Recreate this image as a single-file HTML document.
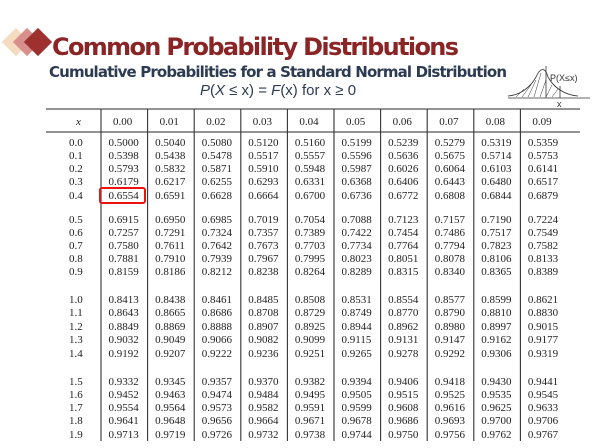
<!DOCTYPE html>
<html><head><meta charset="utf-8"><style>
html,body{margin:0;padding:0;background:#fff;width:601px;height:448px;overflow:hidden}
svg{display:block}
</style></head><body>
<svg width="601" height="448" xmlns="http://www.w3.org/2000/svg">
<g>
<rect x="6" y="32" width="20" height="20" fill="#f5dcc0" transform="rotate(45 16 42)"/>
<rect x="17" y="32" width="20" height="20" fill="#d9908c" transform="rotate(45 27 42)"/>
<rect x="28" y="32" width="20" height="20" fill="#9e3030" transform="rotate(45 38 42)"/>
</g>
<text x="52" y="55" font-family="DejaVu Sans, Liberation Sans, sans-serif" font-weight="bold" font-size="24" fill="#8b2525" textLength="407">Common Probability Distributions</text>
<text x="49" y="77" font-family="DejaVu Sans, Liberation Sans, sans-serif" font-weight="bold" font-size="15" fill="#2c3b52" textLength="458">Cumulative Probabilities for a Standard Normal Distribution</text>
<text x="278" y="95" text-anchor="middle" font-family="Liberation Sans, DejaVu Sans, sans-serif" font-size="15" fill="#2c3b52"><tspan font-style="italic">P</tspan>(<tspan font-style="italic">X</tspan> ≤ x) = <tspan font-style="italic">F</tspan>(x) for x ≥ 0</text>
<g stroke="#333" fill="none" stroke-width="0.8">
<path d="M508,96 C520,95 530,88 536,77 C540,68 545,66 548,77 C554,88 565,95 578,96"/>
<line x1="508" y1="98" x2="590" y2="98"/>
<line x1="546" y1="66" x2="546" y2="98"/>
<line x1="560" y1="86" x2="560" y2="98"/>
<path d="M516,97 L524,89 M522,97 L531,85 M528,97 L536,80 M534,97 L541,73 M540,97 L546,80 M546,97 L552,85 M552,97 L558,89" stroke-width="0.5"/>
</g>
<text x="550" y="81" font-family="Liberation Sans, sans-serif" font-size="9" fill="#333">P(X≤x)</text>
<text x="557" y="107" font-family="Liberation Sans, sans-serif" font-size="9" fill="#333">x</text>
<line x1="46" y1="109" x2="580" y2="109" stroke="#555" stroke-width="1.3"/>
<line x1="46" y1="132" x2="580" y2="132" stroke="#555" stroke-width="1.3"/>
<g stroke="#333" stroke-width="1.1">
<line x1="101" y1="109" x2="101" y2="441"/><line x1="147.6" y1="109" x2="147.6" y2="441"/><line x1="194.2" y1="109" x2="194.2" y2="441"/><line x1="240.8" y1="109" x2="240.8" y2="441"/><line x1="287.4" y1="109" x2="287.4" y2="441"/><line x1="334" y1="109" x2="334" y2="441"/><line x1="380.6" y1="109" x2="380.6" y2="441"/><line x1="427.2" y1="109" x2="427.2" y2="441"/><line x1="473.8" y1="109" x2="473.8" y2="441"/><line x1="520.4" y1="109" x2="520.4" y2="441"/>
</g>
<g font-family="Liberation Serif, serif" font-size="11" fill="#222">
<text y="125"><tspan x="76" font-style="italic">x</tspan><tspan x="113">0.00</tspan><tspan x="159.6">0.01</tspan><tspan x="206.2">0.02</tspan><tspan x="252.8">0.03</tspan><tspan x="299.4">0.04</tspan><tspan x="346">0.05</tspan><tspan x="392.6">0.06</tspan><tspan x="439.2">0.07</tspan><tspan x="485.8">0.08</tspan><tspan x="532.4">0.09</tspan></text>
<text y="146"><tspan x="69">0.0</tspan><tspan x="108.5">0.5000</tspan><tspan x="155.1">0.5040</tspan><tspan x="201.7">0.5080</tspan><tspan x="248.3">0.5120</tspan><tspan x="294.9">0.5160</tspan><tspan x="341.5">0.5199</tspan><tspan x="388.1">0.5239</tspan><tspan x="434.7">0.5279</tspan><tspan x="481.3">0.5319</tspan><tspan x="527.9">0.5359</tspan></text>
<text y="159"><tspan x="69">0.1</tspan><tspan x="108.5">0.5398</tspan><tspan x="155.1">0.5438</tspan><tspan x="201.7">0.5478</tspan><tspan x="248.3">0.5517</tspan><tspan x="294.9">0.5557</tspan><tspan x="341.5">0.5596</tspan><tspan x="388.1">0.5636</tspan><tspan x="434.7">0.5675</tspan><tspan x="481.3">0.5714</tspan><tspan x="527.9">0.5753</tspan></text>
<text y="172"><tspan x="69">0.2</tspan><tspan x="108.5">0.5793</tspan><tspan x="155.1">0.5832</tspan><tspan x="201.7">0.5871</tspan><tspan x="248.3">0.5910</tspan><tspan x="294.9">0.5948</tspan><tspan x="341.5">0.5987</tspan><tspan x="388.1">0.6026</tspan><tspan x="434.7">0.6064</tspan><tspan x="481.3">0.6103</tspan><tspan x="527.9">0.6141</tspan></text>
<text y="185"><tspan x="69">0.3</tspan><tspan x="108.5">0.6179</tspan><tspan x="155.1">0.6217</tspan><tspan x="201.7">0.6255</tspan><tspan x="248.3">0.6293</tspan><tspan x="294.9">0.6331</tspan><tspan x="341.5">0.6368</tspan><tspan x="388.1">0.6406</tspan><tspan x="434.7">0.6443</tspan><tspan x="481.3">0.6480</tspan><tspan x="527.9">0.6517</tspan></text>
<text y="199"><tspan x="69">0.4</tspan><tspan x="108.5">0.6554</tspan><tspan x="155.1">0.6591</tspan><tspan x="201.7">0.6628</tspan><tspan x="248.3">0.6664</tspan><tspan x="294.9">0.6700</tspan><tspan x="341.5">0.6736</tspan><tspan x="388.1">0.6772</tspan><tspan x="434.7">0.6808</tspan><tspan x="481.3">0.6844</tspan><tspan x="527.9">0.6879</tspan></text>
<text y="223"><tspan x="69">0.5</tspan><tspan x="108.5">0.6915</tspan><tspan x="155.1">0.6950</tspan><tspan x="201.7">0.6985</tspan><tspan x="248.3">0.7019</tspan><tspan x="294.9">0.7054</tspan><tspan x="341.5">0.7088</tspan><tspan x="388.1">0.7123</tspan><tspan x="434.7">0.7157</tspan><tspan x="481.3">0.7190</tspan><tspan x="527.9">0.7224</tspan></text>
<text y="236"><tspan x="69">0.6</tspan><tspan x="108.5">0.7257</tspan><tspan x="155.1">0.7291</tspan><tspan x="201.7">0.7324</tspan><tspan x="248.3">0.7357</tspan><tspan x="294.9">0.7389</tspan><tspan x="341.5">0.7422</tspan><tspan x="388.1">0.7454</tspan><tspan x="434.7">0.7486</tspan><tspan x="481.3">0.7517</tspan><tspan x="527.9">0.7549</tspan></text>
<text y="249"><tspan x="69">0.7</tspan><tspan x="108.5">0.7580</tspan><tspan x="155.1">0.7611</tspan><tspan x="201.7">0.7642</tspan><tspan x="248.3">0.7673</tspan><tspan x="294.9">0.7703</tspan><tspan x="341.5">0.7734</tspan><tspan x="388.1">0.7764</tspan><tspan x="434.7">0.7794</tspan><tspan x="481.3">0.7823</tspan><tspan x="527.9">0.7582</tspan></text>
<text y="262"><tspan x="69">0.8</tspan><tspan x="108.5">0.7881</tspan><tspan x="155.1">0.7910</tspan><tspan x="201.7">0.7939</tspan><tspan x="248.3">0.7967</tspan><tspan x="294.9">0.7995</tspan><tspan x="341.5">0.8023</tspan><tspan x="388.1">0.8051</tspan><tspan x="434.7">0.8078</tspan><tspan x="481.3">0.8106</tspan><tspan x="527.9">0.8133</tspan></text>
<text y="275"><tspan x="69">0.9</tspan><tspan x="108.5">0.8159</tspan><tspan x="155.1">0.8186</tspan><tspan x="201.7">0.8212</tspan><tspan x="248.3">0.8238</tspan><tspan x="294.9">0.8264</tspan><tspan x="341.5">0.8289</tspan><tspan x="388.1">0.8315</tspan><tspan x="434.7">0.8340</tspan><tspan x="481.3">0.8365</tspan><tspan x="527.9">0.8389</tspan></text>
<text y="303"><tspan x="69">1.0</tspan><tspan x="108.5">0.8413</tspan><tspan x="155.1">0.8438</tspan><tspan x="201.7">0.8461</tspan><tspan x="248.3">0.8485</tspan><tspan x="294.9">0.8508</tspan><tspan x="341.5">0.8531</tspan><tspan x="388.1">0.8554</tspan><tspan x="434.7">0.8577</tspan><tspan x="481.3">0.8599</tspan><tspan x="527.9">0.8621</tspan></text>
<text y="316"><tspan x="69">1.1</tspan><tspan x="108.5">0.8643</tspan><tspan x="155.1">0.8665</tspan><tspan x="201.7">0.8686</tspan><tspan x="248.3">0.8708</tspan><tspan x="294.9">0.8729</tspan><tspan x="341.5">0.8749</tspan><tspan x="388.1">0.8770</tspan><tspan x="434.7">0.8790</tspan><tspan x="481.3">0.8810</tspan><tspan x="527.9">0.8830</tspan></text>
<text y="330"><tspan x="69">1.2</tspan><tspan x="108.5">0.8849</tspan><tspan x="155.1">0.8869</tspan><tspan x="201.7">0.8888</tspan><tspan x="248.3">0.8907</tspan><tspan x="294.9">0.8925</tspan><tspan x="341.5">0.8944</tspan><tspan x="388.1">0.8962</tspan><tspan x="434.7">0.8980</tspan><tspan x="481.3">0.8997</tspan><tspan x="527.9">0.9015</tspan></text>
<text y="343"><tspan x="69">1.3</tspan><tspan x="108.5">0.9032</tspan><tspan x="155.1">0.9049</tspan><tspan x="201.7">0.9066</tspan><tspan x="248.3">0.9082</tspan><tspan x="294.9">0.9099</tspan><tspan x="341.5">0.9115</tspan><tspan x="388.1">0.9131</tspan><tspan x="434.7">0.9147</tspan><tspan x="481.3">0.9162</tspan><tspan x="527.9">0.9177</tspan></text>
<text y="357"><tspan x="69">1.4</tspan><tspan x="108.5">0.9192</tspan><tspan x="155.1">0.9207</tspan><tspan x="201.7">0.9222</tspan><tspan x="248.3">0.9236</tspan><tspan x="294.9">0.9251</tspan><tspan x="341.5">0.9265</tspan><tspan x="388.1">0.9278</tspan><tspan x="434.7">0.9292</tspan><tspan x="481.3">0.9306</tspan><tspan x="527.9">0.9319</tspan></text>
<text y="385"><tspan x="69">1.5</tspan><tspan x="108.5">0.9332</tspan><tspan x="155.1">0.9345</tspan><tspan x="201.7">0.9357</tspan><tspan x="248.3">0.9370</tspan><tspan x="294.9">0.9382</tspan><tspan x="341.5">0.9394</tspan><tspan x="388.1">0.9406</tspan><tspan x="434.7">0.9418</tspan><tspan x="481.3">0.9430</tspan><tspan x="527.9">0.9441</tspan></text>
<text y="398"><tspan x="69">1.6</tspan><tspan x="108.5">0.9452</tspan><tspan x="155.1">0.9463</tspan><tspan x="201.7">0.9474</tspan><tspan x="248.3">0.9484</tspan><tspan x="294.9">0.9495</tspan><tspan x="341.5">0.9505</tspan><tspan x="388.1">0.9515</tspan><tspan x="434.7">0.9525</tspan><tspan x="481.3">0.9535</tspan><tspan x="527.9">0.9545</tspan></text>
<text y="411"><tspan x="69">1.7</tspan><tspan x="108.5">0.9554</tspan><tspan x="155.1">0.9564</tspan><tspan x="201.7">0.9573</tspan><tspan x="248.3">0.9582</tspan><tspan x="294.9">0.9591</tspan><tspan x="341.5">0.9599</tspan><tspan x="388.1">0.9608</tspan><tspan x="434.7">0.9616</tspan><tspan x="481.3">0.9625</tspan><tspan x="527.9">0.9633</tspan></text>
<text y="424"><tspan x="69">1.8</tspan><tspan x="108.5">0.9641</tspan><tspan x="155.1">0.9648</tspan><tspan x="201.7">0.9656</tspan><tspan x="248.3">0.9664</tspan><tspan x="294.9">0.9671</tspan><tspan x="341.5">0.9678</tspan><tspan x="388.1">0.9686</tspan><tspan x="434.7">0.9693</tspan><tspan x="481.3">0.9700</tspan><tspan x="527.9">0.9706</tspan></text>
<text y="438"><tspan x="69">1.9</tspan><tspan x="108.5">0.9713</tspan><tspan x="155.1">0.9719</tspan><tspan x="201.7">0.9726</tspan><tspan x="248.3">0.9732</tspan><tspan x="294.9">0.9738</tspan><tspan x="341.5">0.9744</tspan><tspan x="388.1">0.9750</tspan><tspan x="434.7">0.9756</tspan><tspan x="481.3">0.9762</tspan><tspan x="527.9">0.9767</tspan></text>
</g>
<rect x="100" y="188" width="45" height="15" rx="2" fill="none" stroke="#ee1111" stroke-width="2"/>
</svg>
</body></html>
